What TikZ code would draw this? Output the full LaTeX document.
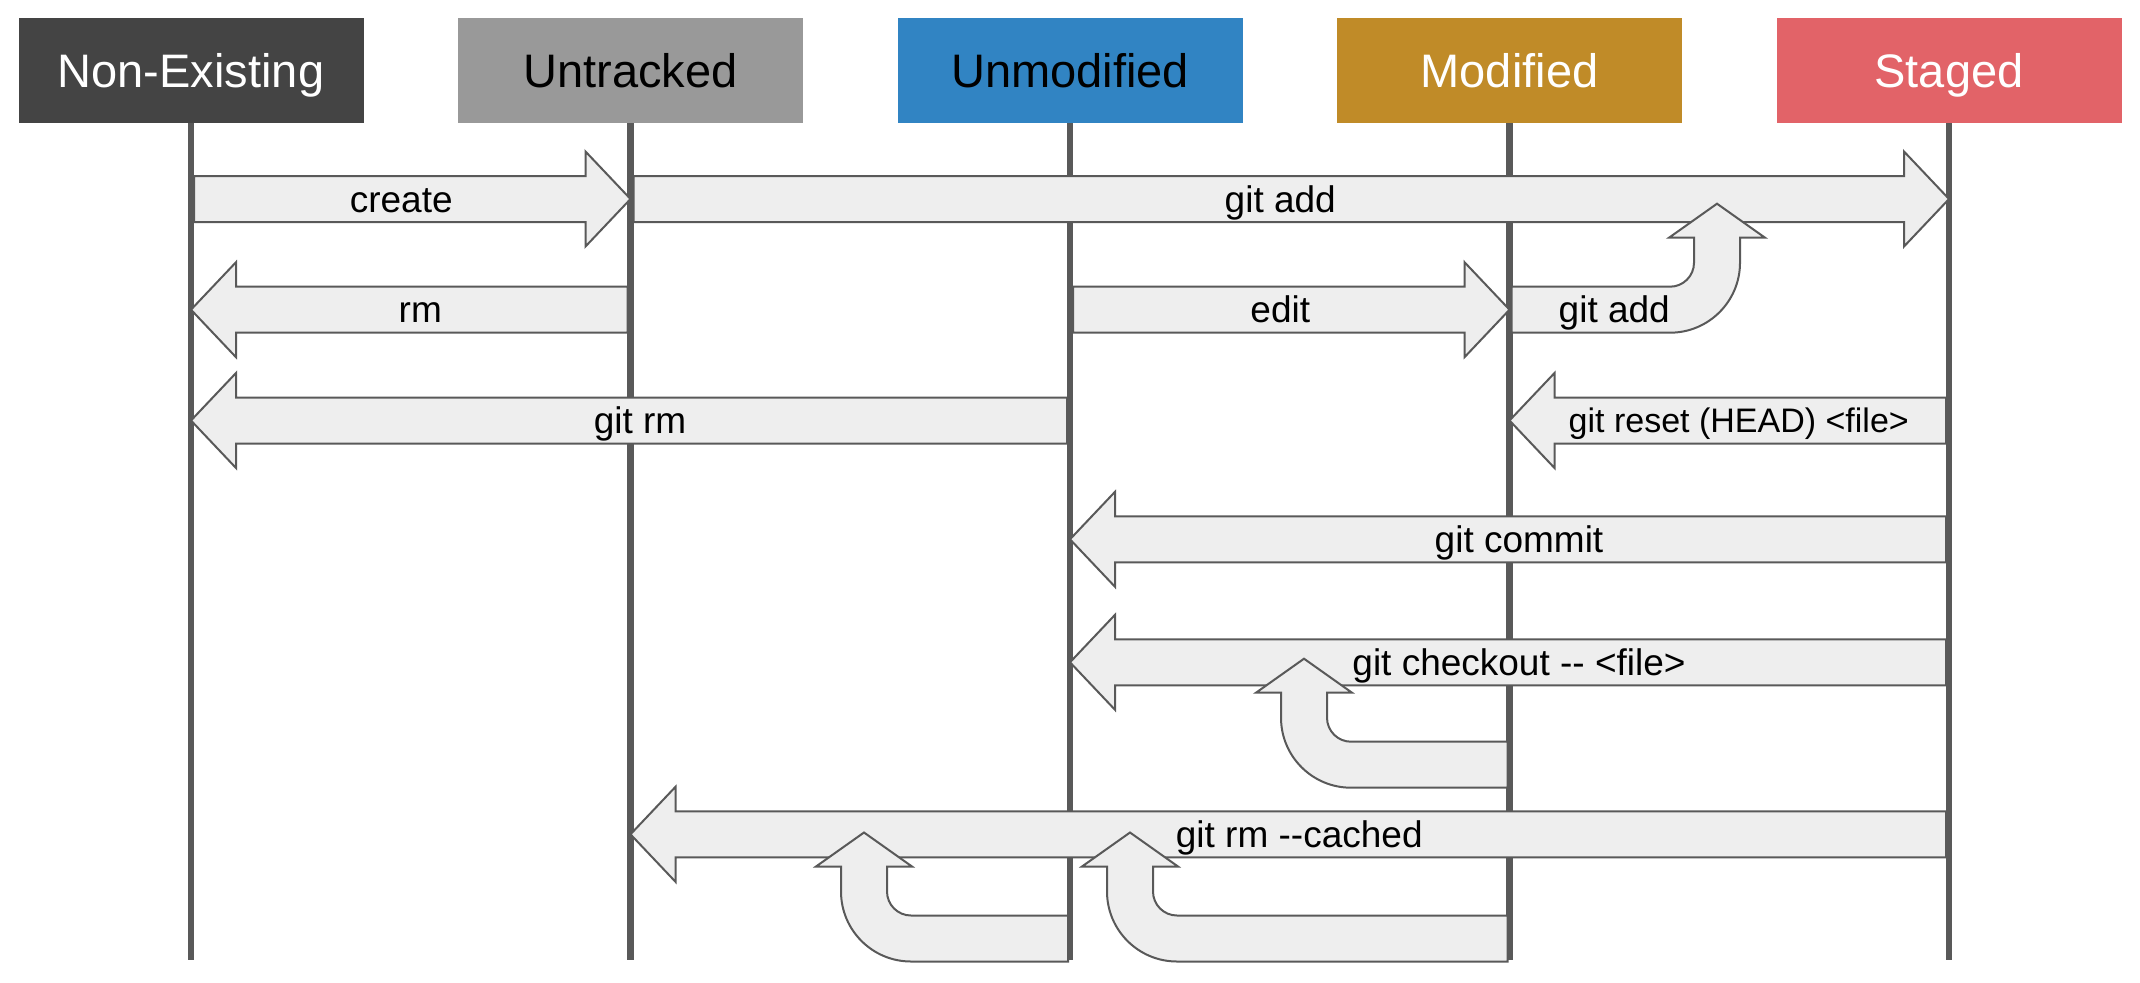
\documentclass[tikz,border=0pt]{standalone}
\usepackage{fontspec}
\setmainfont{Liberation Sans}
\usetikzlibrary{positioning,calc}

\definecolor{nonexcol}{HTML}{444444}
\definecolor{untrcol}{HTML}{999999}
\definecolor{unmodcol}{HTML}{3184C3}
\definecolor{modcol}{HTML}{C08B28}
\definecolor{stgcol}{HTML}{E26368}
\definecolor{edgecol}{HTML}{595959}
\definecolor{bodycol}{HTML}{EEEEEE}

% straight block arrow: name, from, to, row, direction (1 right / -1 left), label style, text
\newcommand{\flatarrow}[7]{%
  \coordinate (tl) at ($(#2 |- 0,#4)+({3*(#5)},0)$);
  \coordinate (tp) at (#3 |- 0,#4);
  \draw[block] ($(tl)+(0,-23)$) -- ($(tp)+({-45*(#5)},-23)$) -- ($(tp)+({-45*(#5)},-47.5)$) -- (tp)
    -- ($(tp)+({-45*(#5)},47.5)$) -- ($(tp)+({-45*(#5)},23)$) -- ($(tl)+(0,23)$) -- cycle;
  \node[#6] (#1) at ($(tl)!0.5!(tp)+({-11*(#5)},0)$) {#7};
}

% bent block arrow: lifeline, row, turn x, side (1 turn left of line / -1 right)
\newcommand{\bentarrow}[4]{%
  \coordinate (tl) at ($(#1 |- 0,#2)+({-2*(#4)},0)$);
  \coordinate (tn) at (#3,#2);
  \draw[block] ($(tl)+(0,-23)$) -- ($(tn)+({47*(#4)},-23)$)
    .. controls ($(tn)+({33.75*(#4)},-23)$) and ($(tn)+({23*(#4)},-33.75)$) .. ($(tn)+({23*(#4)},-47)$)
    -- ($(tn)+({23*(#4)},-72)$) -- ($(tn)+({48*(#4)},-72)$) -- ($(tn)+(0,-106)$)
    -- ($(tn)+({-48*(#4)},-72)$) -- ($(tn)+({-23*(#4)},-72)$) -- ($(tn)+({-23*(#4)},-47)$)
    .. controls ($(tn)+({-23*(#4)},-8.34)$) and ($(tn)+({8.34*(#4)},23)$) .. ($(tn)+({47*(#4)},23)$)
    -- ($(tl)+(0,23)$) -- cycle;
}

\begin{document}
\begin{tikzpicture}[x=1pt, y=-1pt,
    header/.style={rectangle, minimum width=345pt, minimum height=105pt, inner sep=0pt, outer sep=0pt,
      font=\fontsize{47}{56}\selectfont, text height=33.7pt, text depth=0pt},
    lifeline/.style={draw=edgecol, line width=6.5pt},
    block/.style={draw=edgecol, fill=bodycol, line width=2pt, line join=miter},
    lbl/.style={font=\fontsize{37}{44}\selectfont, text height=26.5pt, text depth=0pt, inner sep=0pt},
    small lbl/.style={font=\fontsize{34}{40}\selectfont, text height=24.3pt, text depth=0pt, inner sep=0pt}]
  \useasboundingbox (0,0) rectangle (2140,982);

  % states
  \node[header, fill=nonexcol, text=white] (nonexist) at (191,70.8) {Non-Existing};
  \node[header, fill=untrcol] (untracked) [right=94.5pt of nonexist] {Untracked};
  \node[header, fill=unmodcol] (unmod) [right=94.5pt of untracked] {Unmodified};
  \node[header, fill=modcol, text=white] (modif) [right=94.5pt of unmod] {Modified};
  \node[header, fill=stgcol, text=white] (staged) [right=94.5pt of modif] {Staged};

  % life lines
  \foreach \s in {nonexist,untracked,unmod,modif,staged}
    \draw[lifeline] (\s.south) -- (\s |- 0,960);

  % transitions
  \flatarrow{create}{nonexist}{untracked}{199}{1}{lbl}{create}
  \flatarrow{add}{untracked}{staged}{199}{1}{lbl}{git add}
  \flatarrow{rm}{untracked}{nonexist}{309.7}{-1}{lbl}{rm}
  \flatarrow{edit}{unmod}{modif}{309.7}{1}{lbl}{edit}
  \bentarrow{modif}{309.7}{1717}{-1}
  \node[lbl] (addmod) at ($(tl)!0.5!(tn)$) {git add};
  \flatarrow{gitrm}{unmod}{nonexist}{420.5}{-1}{lbl}{git rm}
  \flatarrow{reset}{staged}{modif}{420.5}{-1}{small lbl}{git reset (HEAD) <file>}
  \flatarrow{commit}{staged}{unmod}{539.3}{-1}{lbl}{git commit}
  \flatarrow{checkout}{staged}{unmod}{662.3}{-1}{lbl}{git checkout -{}- <file>}
  \bentarrow{modif}{764.7}{1304}{1}
  \flatarrow{cached}{staged}{untracked}{834.3}{-1}{lbl}{git rm -{}-cached}
  \bentarrow{unmod}{938.5}{864}{1}
  \bentarrow{modif}{938.5}{1130}{1}
\end{tikzpicture}
\end{document}
